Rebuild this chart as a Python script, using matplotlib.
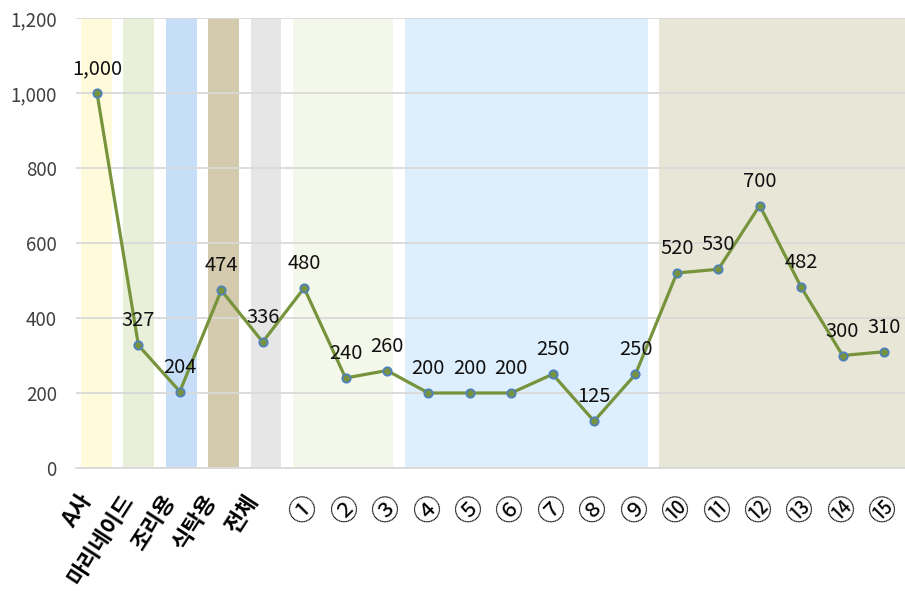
import matplotlib
matplotlib.use('Agg')
import matplotlib.pyplot as plt
from matplotlib.ticker import FuncFormatter

plt.rcParams['font.family'] = ['Noto Sans CJK KR', 'DejaVu Sans']

# data
labels = ['A사', '마리네이드', '조리용', '식탁용', '전체',
          '①', '②', '③', '④', '⑤', '⑥', '⑦', '⑧', '⑨',
          '⑩', '⑪', '⑫', '⑬', '⑭', '⑮']
values = [1000, 327, 204, 474, 336,
          480, 240, 260, 200, 200, 200, 250, 125, 250,
          520, 530, 700, 482, 300, 310]

# background bands (start, end in category units) and colours
band_start = [-0.39, 0.63, 1.67, 2.68, 3.72, 4.73, 7.44, 13.57]
band_end = [0.36, 1.38, 2.41, 3.43, 4.44, 7.15, 13.30, 19.5]
band_color = ['#FFFBDA', '#E8F0DA', '#C6DEF8', '#D4CBAF', '#E6E6E6',
              '#F4F8EA', '#DDEEFC', '#E8E6D7']

x = list(range(len(labels)))

fig = plt.figure(figsize=(9.05, 6.0), dpi=100)
ax = fig.add_axes([0.0843, 0.22, 0.9154, 0.75])

for s, e, c in zip(band_start, band_end, band_color):
    ax.axvspan(s, e, color=c, zorder=0, lw=0)

ax.set_ylim(0, 1200)
ax.set_xlim(-0.5, 19.5)
ax.set_yticks(range(0, 1201, 200))
ax.yaxis.set_major_formatter(FuncFormatter(lambda v, p: f'{int(v):,}'))
ax.grid(axis='y', color='#D9D9D9', lw=1.3, zorder=1)
ax.set_axisbelow(True)
for sp in ['top', 'right', 'left']:
    ax.spines[sp].set_visible(False)
ax.spines['bottom'].set_color('#D9D9D9')
ax.spines['bottom'].set_linewidth(1.3)

ax.plot(x, values, color='#77933C', lw=2.3, marker='o', markersize=6,
        markerfacecolor='#77933C', markeredgecolor='#4F81BD',
        markeredgewidth=1.3, zorder=3)

for xi, v in zip(x, values):
    ax.annotate(f'{v:,}', (xi, v), xytext=(0, 10), textcoords='offset points',
                ha='center', va='bottom', fontsize=14.5, color='#111111', zorder=4)

ax.set_xticks(x)
ax.set_xticklabels(labels, rotation=57, ha='right', color='black')
for i, t in enumerate(ax.get_xticklabels()):
    if i < 5:
        t.set_fontsize(16)
        t.set_fontweight('bold')
    else:
        t.set_fontsize(20)
        t.set_rotation(45)
        t.set_ha('center')
ax.tick_params(axis='x', length=0, pad=16)
ax.tick_params(axis='y', length=0, pad=14, labelsize=13.5, labelcolor='#404040')

fig.savefig('out.png', dpi=100)
